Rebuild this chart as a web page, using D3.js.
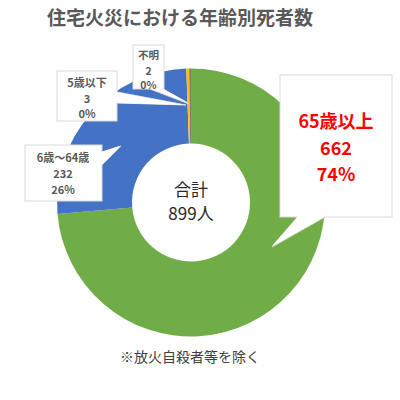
<!DOCTYPE html>
<html>
<head>
<meta charset="utf-8">
<script src="https://cdn.jsdelivr.net/npm/d3@7"></script>
<style>
  body { margin: 0; background: #fff; }
  svg { display: block; }
</style>
</head>
<body>
<script>
// -----------------------------
// Data
// -----------------------------
const categories = ["65歳以上", "6歳〜64歳", "5歳以下", "不明"];
const deaths = [662, 232, 3, 2];
const percents = ["74%", "26%", "0%", "0%"];
const sliceColors = ["#70AD47", "#4472C4", "#FFC000", "#7F7F7F"];
const totalLabel = ["合計", "899人"];

const WIDTH = 400;
const HEIGHT = 400;
const FONT = "'Noto Sans CJK JP', 'Noto Sans', sans-serif";

const svg = d3.select("body")
  .append("svg")
  .attr("width", WIDTH)
  .attr("height", HEIGHT)
  .attr("viewBox", `0 0 ${WIDTH} ${HEIGHT}`);

// Title
svg.append("text")
  .attr("x", 180)
  .attr("y", 25)
  .attr("text-anchor", "middle")
  .attr("font-family", FONT)
  .attr("font-size", 19)
  .attr("font-weight", "bold")
  .attr("fill", "#595959")
  .text("住宅火災における年齢別死者数");

// -----------------------------
// Doughnut
// -----------------------------
const CX = 191;
const CY = 202.5;
const OUTER = 134;
const INNER = 59;

const pie = d3.pie().sort(null).value(d => d);
const arcs = pie(deaths);
const arc = d3.arc().innerRadius(INNER).outerRadius(OUTER);

const g = svg.append("g").attr("transform", `translate(${CX},${CY})`);

g.selectAll("path.slice")
  .data(arcs)
  .enter()
  .append("path")
  .attr("class", "slice")
  .attr("d", arc)
  .attr("fill", (d, i) => sliceColors[i]);

// centre label
g.selectAll("text.total")
  .data(totalLabel)
  .enter()
  .append("text")
  .attr("class", "total")
  .attr("x", 0)
  .attr("y", (d, i) => -7 + i * 24)
  .attr("text-anchor", "middle")
  .attr("font-family", FONT)
  .attr("font-size", 17)
  .attr("fill", "#262626")
  .text(d => d);

// -----------------------------
// Callouts (box + pointer), positions in page px
// -----------------------------
const callouts = [
  { box: [280, 75, 112, 142], base: [298, 217, 325, 217], tip: [272, 247],
    lines: [128, 154.5, 181], cx: 336, size: 18, color: "#FF0000", weight: "bold" },
  { box: [25, 145, 77, 56], base: [102, 152, 102, 165], tip: [121, 146],
    lines: [162, 178, 194], cx: 63, size: 11, color: "#595959", weight: "bold" },
  { box: [57, 71, 60, 50], base: [117, 92, 117, 103], tip: [186, 105],
    lines: [87, 103, 118], cx: 87, size: 11, color: "#595959", weight: "bold" },
  { box: [133, 45, 31, 44], base: [150, 89, 162, 89], tip: [189, 104],
    lines: [59, 74.5, 89], cx: 148.5, size: 10.5, color: "#595959", weight: "bold" }
];

const cg = svg.append("g").attr("class", "callouts");

callouts.forEach((c, i) => {
  const [bx, by, bw, bh] = c.box;
  const [x1, y1, x2, y2] = c.base;
  cg.append("rect")
    .attr("x", bx)
    .attr("y", by)
    .attr("width", bw)
    .attr("height", bh)
    .attr("fill", "#fff")
    .attr("stroke", "#D9D9D9")
    .attr("stroke-width", 1);
  cg.append("path")
    .attr("d", `M${x1},${y1}L${c.tip[0]},${c.tip[1]}L${x2},${y2}`)
    .attr("fill", "#fff")
    .attr("stroke", "#D9D9D9")
    .attr("stroke-width", 1);
  // cover border between box and pointer
  cg.append("path")
    .attr("d", `M${x1},${y1}L${c.tip[0]},${c.tip[1]}L${x2},${y2}Z`)
    .attr("fill", "#fff")
    .attr("transform", x1 === x2 ? "translate(-1,0)" : "translate(0,-1)");

  const texts = [categories[i], String(deaths[i]), percents[i]];
  cg.selectAll(null)
    .data(texts)
    .enter()
    .append("text")
    .attr("x", c.cx)
    .attr("y", (d, j) => c.lines[j])
    .attr("text-anchor", "middle")
    .attr("font-family", FONT)
    .attr("font-size", c.size)
    .attr("font-weight", c.weight)
    .attr("fill", c.color)
    .text(d => d);
});

// Footnote
svg.append("text")
  .attr("x", 190)
  .attr("y", 362)
  .attr("text-anchor", "middle")
  .attr("font-family", FONT)
  .attr("font-size", 14)
  .attr("fill", "#404040")
  .text("※放火自殺者等を除く");
</script>
</body>
</html>
